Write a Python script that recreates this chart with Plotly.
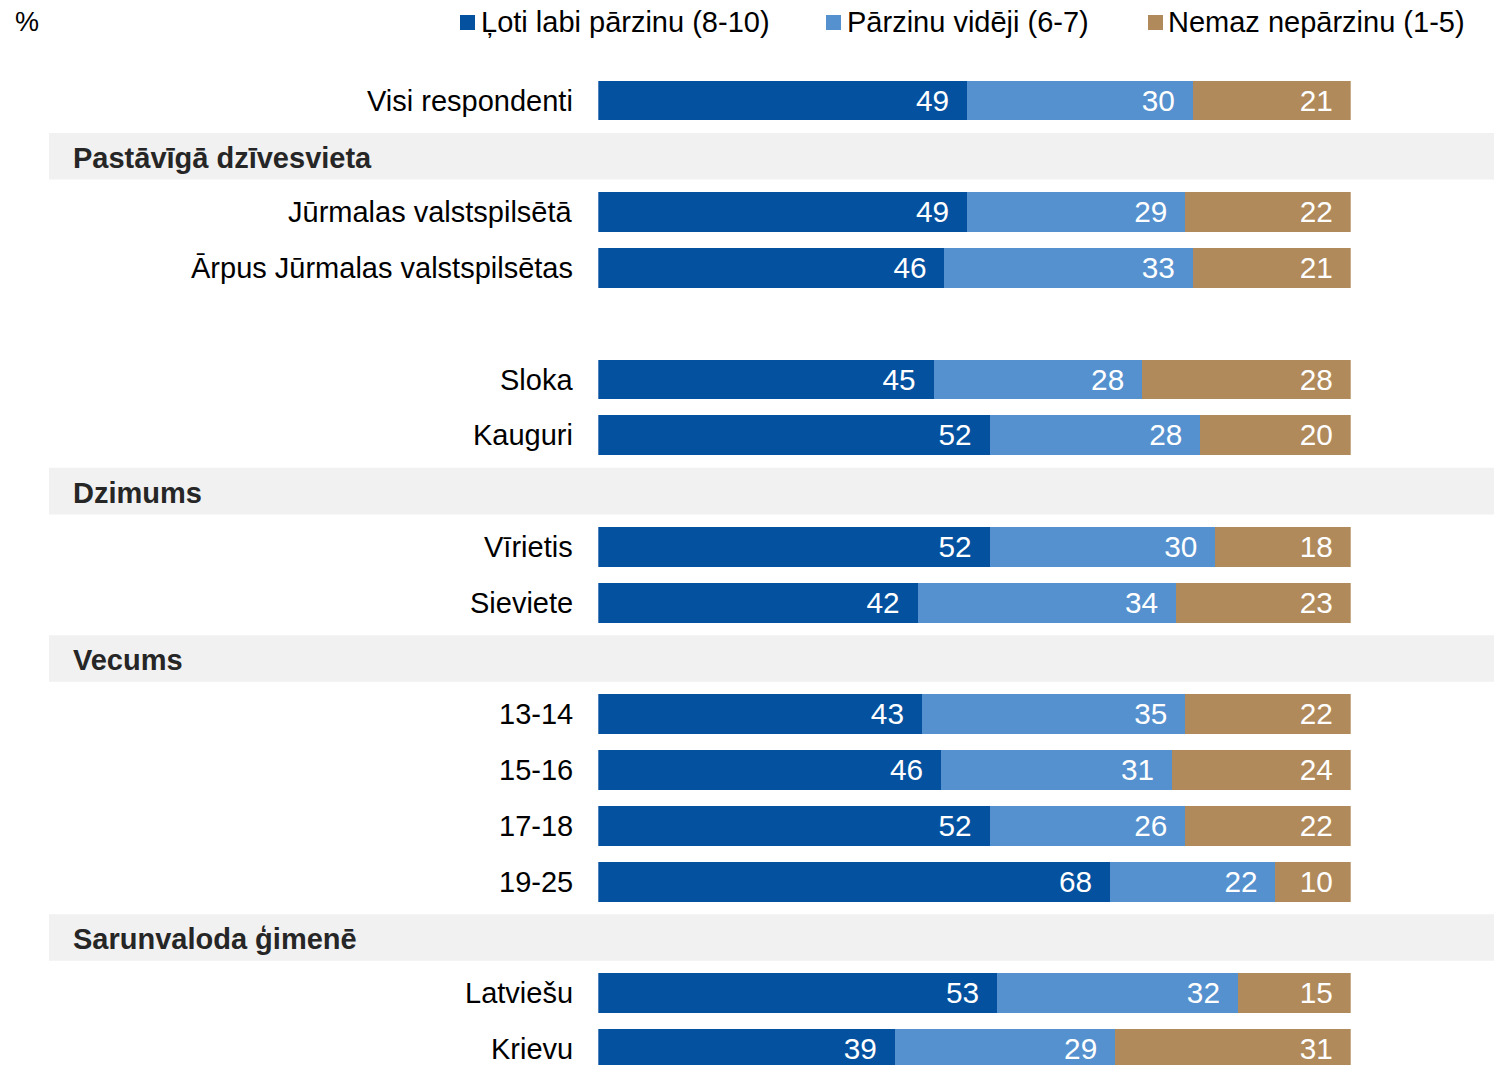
import plotly.graph_objects as go

# ---- data ----
rows = [
    "Visi respondenti",
    "#Pastāvīgā dzīvesvieta",
    "Jūrmalas valstspilsētā",
    "Ārpus Jūrmalas valstspilsētas",
    "",
    "Sloka",
    "Kauguri",
    "#Dzimums",
    "Vīrietis",
    "Sieviete",
    "#Vecums",
    "13-14",
    "15-16",
    "17-18",
    "19-25",
    "#Sarunvaloda ģimenē",
    "Latviešu",
    "Krievu",
]
categories = ["Visi respondenti", "Jūrmalas valstspilsētā", "Ārpus Jūrmalas valstspilsētas",
              "Sloka", "Kauguri", "Vīrietis", "Sieviete", "13-14", "15-16", "17-18", "19-25",
              "Latviešu", "Krievu"]
loti_labi = [49, 49, 46, 45, 52, 52, 42, 43, 46, 52, 68, 53, 39]
videji = [30, 29, 33, 28, 28, 30, 34, 35, 31, 26, 22, 32, 29]
nemaz = [21, 22, 21, 28, 20, 18, 23, 22, 24, 22, 10, 15, 31]
series_names = ["Ļoti labi pārzinu (8-10)", "Pārzinu vidēji (6-7)", "Nemaz nepārzinu (1-5)"]
colors = ["#03519F", "#5591CF", "#B08A5B"]

FONT = "Liberation Sans, Arial, sans-serif"
W, H = 1494, 1065
ROW0, STEP = 100.5, 55.8  # pixel centre of first row, row pitch

ypos = [rows.index(c) for c in categories]

fig = go.Figure()
for name, vals, col in zip(series_names, [loti_labi, videji, nemaz], colors):
    fig.add_trace(go.Bar(
        y=ypos, x=vals, orientation="h", name=name, width=0.71,
        marker=dict(color=col, line=dict(width=0)),
        text=vals, texttemplate="%{text}\u2002", textposition="inside",
        insidetextanchor="end",
        textfont=dict(family=FONT, size=31, color="white"),
        showlegend=False,
    ))

annotations = []
shapes = []
for i, r in enumerate(rows):
    if r.startswith("#"):
        shapes.append(dict(type="rect", xref="paper", yref="y", x0=49 / W, x1=1,
                           y0=i - 0.418, y1=i + 0.418, fillcolor="#F1F1F1",
                           line=dict(width=0), layer="below"))
        annotations.append(dict(text="<b>" + r[1:] + "</b>", xref="paper", yref="y",
                                x=71 / W, y=i + 0.035, xanchor="left", yanchor="middle",
                                showarrow=False, font=dict(family=FONT, size=29, color="#262626")))
    elif r:
        annotations.append(dict(text=r, xref="paper", yref="y", x=575 / W, y=i,
                                xanchor="right", yanchor="middle", showarrow=False,
                                font=dict(family=FONT, size=29, color="black")))

# percent sign
annotations.append(dict(text="%", xref="paper", yref="paper", x=13 / W, y=1 - 22 / H,
                        xanchor="left", yanchor="middle", showarrow=False,
                        font=dict(family=FONT, size=27, color="black")))

# legend (manual)
leg_sq = [460, 826, 1148]
leg_tx = [479, 845, 1166]
for name, col, sx, tx in zip(series_names, colors, leg_sq, leg_tx):
    shapes.append(dict(type="rect", xref="paper", yref="paper", x0=sx / W, x1=(sx + 15) / W,
                       y0=1 - 30 / H, y1=1 - 15 / H, fillcolor=col, line=dict(width=0)))
    annotations.append(dict(text=name, xref="paper", yref="paper", x=tx / W, y=1 - 22 / H,
                            xanchor="left", yanchor="middle", showarrow=False,
                            font=dict(family=FONT, size=29, color="black")))

fig.update_layout(
    width=W, height=H,
    margin=dict(l=0, r=0, t=0, b=0),
    paper_bgcolor="white", plot_bgcolor="white",
    barmode="stack", barnorm="percent",
    xaxis=dict(domain=[598.3 / W, 1350.7 / W], range=[0, 100], visible=False, fixedrange=True),
    yaxis=dict(range=[(H - ROW0) / STEP, -ROW0 / STEP], visible=False, fixedrange=True),
    shapes=shapes, annotations=annotations,
    font=dict(family=FONT),
)

fig.write_html("out.html", config={"displayModeBar": False},
               post_script="document.body.style.margin='0';document.body.style.overflow='hidden';")
